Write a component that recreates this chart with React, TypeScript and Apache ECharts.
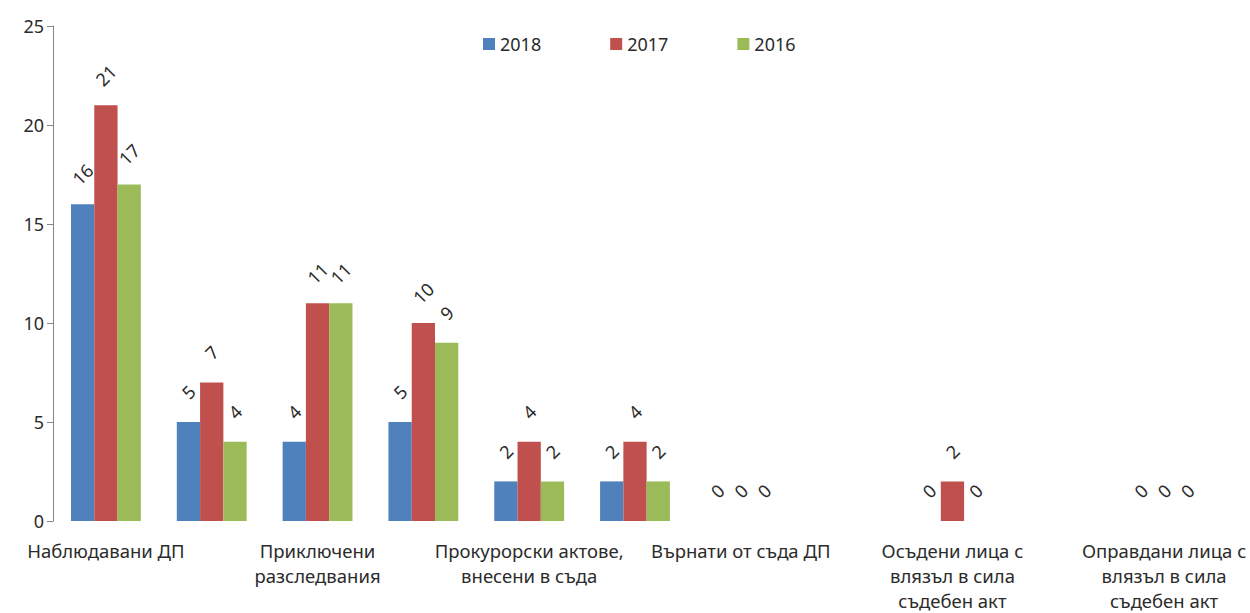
import React, { useEffect, useRef } from "react";
import * as echarts from "echarts";

const categories = [
  "Наблюдавани ДП",
  "Образувани ДП",
  "Приключени\nразследвания",
  "Прекратени ДП",
  "Прокурорски актове,\nвнесени в съда",
  "Внесени обвинителни актове",
  "Върнати от съда ДП",
  "Спрени ДП",
  "Осъдени лица с\nвлязъл в сила\nсъдебен акт",
  "Осъдени лица",
  "Оправдани лица с\nвлязъл в сила\nсъдебен акт",
];
const years = ["2018", "2017", "2016"];
const s2018 = [16, 5, 4, 5, 2, 2, 0, null, 0, null, 0];
const s2017 = [21, 7, 11, 10, 4, 4, 0, null, 2, null, 0];
const s2016 = [17, 4, 11, 9, 2, 2, 0, null, 0, null, 0];
const colors = ["#4F81BD", "#C0504D", "#9BBB59"];
const yTicks = { min: 0, max: 25, interval: 5 };

const FONT = "Noto Sans";
const TXT = "#2b2b2b";

export default function App() {
  const ref = useRef<HTMLDivElement>(null);
  useEffect(() => {
    if (!ref.current) return;
    const chart = echarts.init(ref.current, undefined, { renderer: "svg" });
    const seriesData = [s2018, s2017, s2016];
    chart.setOption({
      animation: false,
      textStyle: { fontFamily: FONT },
      legend: {
        left: 478,
        top: 30,
        itemWidth: 12,
        itemHeight: 12,
        itemGap: 69,
        icon: "rect",
        data: years,
        textStyle: { fontFamily: FONT, fontSize: 18, color: TXT },
      },
      grid: { left: 53, right: 33, top: 26, bottom: 91, containLabel: false },
      xAxis: {
        type: "category",
        data: categories,
        axisLine: { show: false },
        axisTick: { show: false },
        axisLabel: {
          interval: 1,
          fontFamily: FONT,
          fontSize: 18.5,
          color: TXT,
          lineHeight: 25,
          margin: 17,
        },
      },
      yAxis: {
        type: "value",
        min: yTicks.min,
        max: yTicks.max,
        interval: yTicks.interval,
        splitLine: { show: false },
        axisLine: { show: true, lineStyle: { color: "#868686" } },
        axisTick: { show: true, length: 6, lineStyle: { color: "#868686" } },
        axisLabel: { fontFamily: FONT, fontSize: 18, color: TXT, margin: 9 },
      },
      series: years.map((y, i) => ({
        name: y,
        type: "bar",
        data: seriesData[i],
        barGap: "0%",
        barCategoryGap: "34%",
        itemStyle: { color: colors[i] },
        label: {
          show: true,
          position: "top",
          distance: 30,
          rotate: 45,
          align: "center",
          verticalAlign: "middle",
          fontFamily: FONT,
          fontSize: 18,
          color: TXT,
        },
      })),
    });
    return () => chart.dispose();
  }, []);
  return (
    <div
      ref={ref}
      style={{ position: "fixed", left: 0, top: 0, width: 1250, height: 613, background: "#fff" }}
    />
  );
}
